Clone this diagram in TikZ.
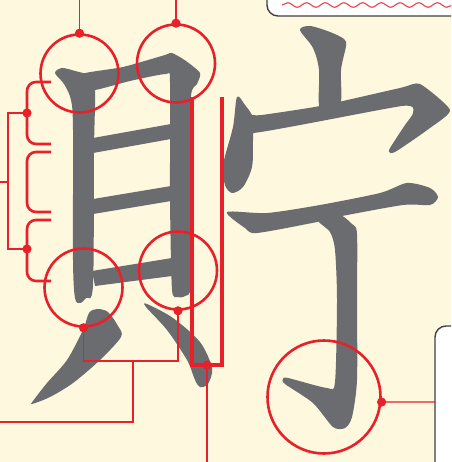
\documentclass[tikz,border=0pt]{standalone}
\usetikzlibrary{decorations.pathmorphing}
\definecolor{paper}{HTML}{FDF8DE}
\definecolor{ink}{HTML}{6B6C70}
\definecolor{mark}{HTML}{E8202A}
\begin{document}
\begin{tikzpicture}[x=1pt,y=-1pt,
  glyph/.style={fill=ink},
  ring/.style={circle,draw=mark,line width=2.6pt,minimum size=78pt,inner sep=0pt},
  dot/.style={fill=mark},
  wire/.style={draw=mark,line width=1.3pt},
  brace/.style={draw=mark,line width=2.6pt,rounded corners=9pt},
  frame/.style={draw=mark,line width=3.2pt,line join=miter},
  panel/.style={draw=black!75,fill=white,line width=1.4pt,rounded corners=11pt}]
\useasboundingbox (0,0) rectangle (451,462);
\fill[paper] (0,0) rectangle (451,462);
\begin{scope}
\clip (0,0) rectangle (451,462);
% panels on the right
\draw[panel] (267,-20) -- (267,16) -- (470,16) -- (470,-20);
\draw[mark!85,line width=1.1pt,decorate,decoration={snake,amplitude=2.3pt,segment length=18.7pt}] (282,5) -- (460,5);
\draw[panel] (435,480) -- (435,326) -- (470,326) -- (470,480);
% left part: strokes of the character
\fill[glyph] plot[smooth cycle,tension=.5] coordinates {(55,73) (62,68) (75,71) (90,76) (95,90) (94,150) (93,285) (86,298) (80,303) (75,298) (73,260) (73,130) (71,100) (64,84)};
\fill[glyph] plot[smooth cycle,tension=.4] coordinates {(82,74) (123,67) (165,55) (172,53) (186,61) (200,73) (197,84) (191,96) (190,180) (191,285) (185,296) (178,297) (172,290) (170,200) (170,82) (166,74) (130,81) (95,90) (86,86)};
\fill[glyph] (93,138) -- (171,124) -- (171,139) -- (93,153) -- cycle;
\fill[glyph] (93,199) -- (171,186) -- (171,201) -- (93,214) -- cycle;
\fill[glyph] (92,271) -- (172,258) -- (172,276) -- (95,286) -- cycle;
\fill[glyph] plot[smooth cycle,tension=.5] coordinates {(97,309) (108,312) (118,326) (121,337) (100,360) (73,383) (50,397) (32,404) (33,401) (47,383) (67,360) (83,330) (89,313)};
\fill[glyph] plot[smooth cycle,tension=.5] coordinates {(147,304) (173,318) (200,342) (212,368) (208,384) (200,387) (195,380) (187,360) (167,330) (146,307)};
% right part
\fill[glyph] plot[smooth cycle,tension=.5] coordinates {(300,30) (310,26) (330,32) (344,39) (346,46) (341,70) (340,105) (320,110) (319,70) (313,48)};
\fill[glyph] plot[smooth cycle,tension=.5] coordinates {(237,97) (245,105) (253,118) (253,140) (252,167) (243,187) (232,193) (225,185) (223,165) (233,127)};
\fill[glyph] plot[smooth cycle,tension=.35] coordinates {(250,116) (262,115) (320,106) (400,88) (420,84) (450,110) (430,128) (395,152) (389,150) (405,125) (413,113) (402,106) (253,133)};
\fill[glyph] plot[smooth cycle,tension=.45] coordinates {(227,212) (267,213) (320,205) (380,193) (407,183) (430,188) (438,197) (430,205) (403,205) (337,217) (317,222) (257,233) (245,228)};
\fill[glyph] plot[smooth cycle,tension=.45] coordinates {(318,220) (338,214) (352,224) (357,234) (357,300) (357,380) (352,417) (345,428) (333,427) (313,403) (285,384) (283,379) (288,378) (327,388) (335,382) (337,300) (335,250) (330,232)};
\end{scope}
% marks
\node[ring] (c1) at (79.5,73.5) {};
\node[ring] (c2) at (176,63.5) {};
\node[ring] (c3) at (83.5,287.5) {};
\node[ring] (c4) at (178,270.5) {};
\node[ring,minimum size=113pt] (c5) at (324,397) {};
\coordinate (d1) at (c1.north);
\coordinate (d2) at (c2.north);
\coordinate (d3) at (c3.south);
\coordinate (d4) at (c4.south);
\coordinate (d5) at (c5.-5);
\coordinate (t1) at (79.5,0);
\coordinate (t2) at (176,0);
\draw[wire] (d1) -- (t1);
\draw[wire] (d2) -- (t2);
% legs joined below
\coordinate (j3) at (83.5,361);
\coordinate (j4) at (178,361);
\coordinate (jm) at (133,361);
\coordinate (jl) at (133,422);
\coordinate (je) at (0,422);
\draw[wire] (d3) -- (j3) -- (j4) -- (d4);
\draw[wire] (jm) -- (jl) -- (je);
% frame along the right side of the left part
\coordinate (f1) at (192,97);
\coordinate (f2) at (192,365);
\coordinate (f3) at (222,365);
\coordinate (f4) at (222,97);
\coordinate (d6) at (207,365);
\coordinate (f6) at (207,462);
\draw[frame] (f1) -- (f2) -- (f3) -- (f4);
\draw[wire] (d6) -- (f6);
% braces on the left
\draw[brace] (51,82) -- (27,82) -- (27,144) -- (51,144);
\draw[brace] (51,152) -- (27,152) -- (27,212) -- (51,212);
\draw[brace] (51,220) -- (27,220) -- (27,281) -- (51,281);
\coordinate (d7) at (27,113);
\coordinate (d8) at (27,249);
\coordinate (g7) at (8,113);
\coordinate (g8) at (8,249);
\coordinate (gm) at (8,182);
\coordinate (ge) at (0,182);
\draw[wire] (d7) -- (g7) -- (g8) -- (d8);
\draw[wire] (gm) -- (ge);
% to the box below right
\coordinate (b5) at (435,402);
\draw[wire] (d5) -- (b5);
\foreach \d in {d1,d2,d3,d4,d5,d6,d7,d8}
  \fill[dot] (\d) circle (4.6);
\end{tikzpicture}
\end{document}
